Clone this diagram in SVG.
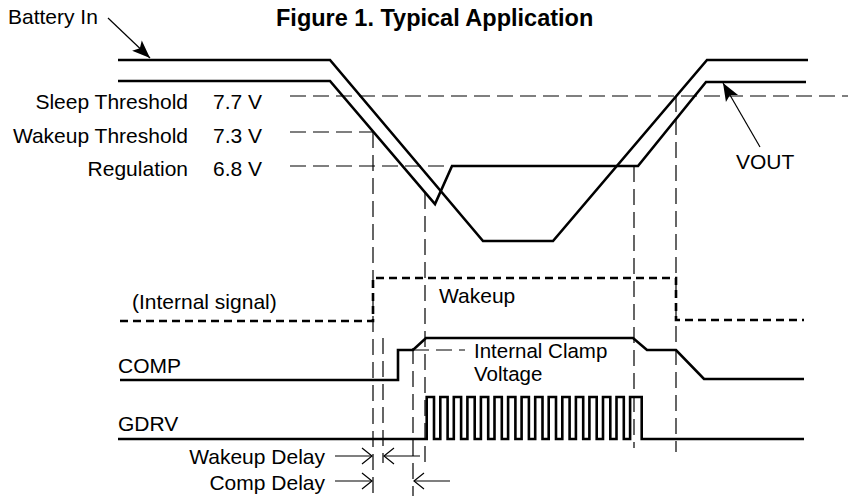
<svg xmlns="http://www.w3.org/2000/svg" width="848" height="498" viewBox="0 0 848 498">
<defs>
<style>
.t{font-family:"Liberation Sans",Arial,sans-serif;font-size:21px;fill:#000}
.title{font-family:"Liberation Sans",Arial,sans-serif;font-size:23.5px;font-weight:bold;fill:#000}
.sig{fill:none;stroke:#000;stroke-width:2.6;stroke-linejoin:miter}
.isig{fill:none;stroke:#000;stroke-width:2.6;stroke-dasharray:8 5}
.guide{fill:none;stroke:#000;stroke-width:1.2;stroke-dasharray:16 7}
.ptr{fill:none;stroke:#000;stroke-width:1.2}
</style>
<marker id="fill-arrow" markerUnits="userSpaceOnUse" markerWidth="20" markerHeight="16" refX="18" refY="7" orient="auto" overflow="visible">
<path d="M0,0 L18,7 L0,14 L4,7 z" fill="#000"/>
</marker>
<marker id="open-arrow" markerUnits="userSpaceOnUse" markerWidth="12" markerHeight="18" refX="10" refY="8" orient="auto" overflow="visible">
<path d="M0,0 L10,8 L0,16" fill="none" stroke="#000" stroke-width="1.2"/>
</marker>
</defs>
<rect width="848" height="498" fill="#fff"/>

<text id="title" class="title" x="276" y="26">Figure 1. Typical Application</text>

<g id="labels">
<text class="t" x="8" y="24">Battery In</text>
<text class="t" x="188" y="109" text-anchor="end">Sleep Threshold</text>
<text class="t" x="213" y="109">7.7 V</text>
<text class="t" x="188" y="143" text-anchor="end">Wakeup Threshold</text>
<text class="t" x="213" y="143">7.3 V</text>
<text class="t" x="188" y="176" text-anchor="end">Regulation</text>
<text class="t" x="213" y="176">6.8 V</text>
<text class="t" x="736" y="169">VOUT</text>
<text class="t" x="132" y="309">(Internal signal)</text>
<text class="t" x="439" y="303">Wakeup</text>
<text class="t" x="118" y="373">COMP</text>
<text class="t" x="474" y="358" style="font-size:20.5px">Internal Clamp</text>
<text class="t" x="474" y="381" style="font-size:20.5px">Voltage</text>
<text class="t" x="118" y="431">GDRV</text>
<text class="t" x="325" y="464" text-anchor="end">Wakeup Delay</text>
<text class="t" x="325" y="490" text-anchor="end">Comp Delay</text>
</g>

<g id="guides">
<line class="guide" x1="290" y1="96" x2="848" y2="96"/>
<line class="guide" x1="290" y1="132" x2="373" y2="132"/>
<line class="guide" x1="290" y1="166" x2="452" y2="166"/>
<line class="guide" x1="373" y1="132" x2="373" y2="496"/>
<line class="guide" x1="383" y1="338" x2="383" y2="463"/>
<line class="guide" x1="413" y1="348" x2="413" y2="496"/>
<line class="guide" x1="425" y1="193" x2="425" y2="462"/>
<line class="guide" x1="634" y1="166" x2="634" y2="448"/>
<line class="guide" x1="676" y1="96" x2="676" y2="452"/>
<line class="guide" x1="413" y1="350" x2="465" y2="350" stroke-dasharray="13 6"/>
</g>

<g id="battery-in">
<path class="sig" d="M118,60 H330 L483,241 H553 L707,60 H808"/>
</g>
<g id="vout">
<path class="sig" d="M118,81 H330 L435,204 L452,166 H638 L706,82 H806"/>
</g>
<g id="internal-signal">
<path class="isig" d="M120,321 H373 V278 H676 V320 H804"/>
</g>
<g id="comp">
<path class="sig" d="M120,380 H398 V350 H413 L426,338 H633 L647,350 H676 L704,379 H804"/>
</g>
<g id="gdrv">
<path class="sig" d="M118,439 H426.7 V397 H434 V439 H440.3 V397 H447.6 V439 H453.8 V397 H461.1 V439 H467.4 V397 H474.7 V439 H480.9 V397 H488.2 V439 H494.5 V397 H501.8 V439 H508.1 V397 H515.4 V439 H521.6 V397 H528.9 V439 H535.2 V397 H542.5 V439 H548.7 V397 H556 V439 H562.3 V397 H569.6 V439 H575.9 V397 H583.2 V439 H589.4 V397 H596.7 V439 H603 V397 H610.3 V439 H616.5 V397 H623.8 V439 H630.1 V397 H641.7 V439 H804"/>
</g>

<g id="connectors">
<line class="ptr" x1="108" y1="18" x2="150" y2="58" marker-end="url(#fill-arrow)"/>
<line class="ptr" x1="760" y1="147" x2="723" y2="83" marker-end="url(#fill-arrow)"/>
<line class="ptr" x1="335" y1="456" x2="372" y2="456" marker-end="url(#open-arrow)"/>
<line class="ptr" x1="420" y1="456" x2="384" y2="456" marker-end="url(#open-arrow)"/>
<line class="ptr" x1="335" y1="481" x2="372" y2="481" marker-end="url(#open-arrow)"/>
<line class="ptr" x1="450" y1="481" x2="414" y2="481" marker-end="url(#open-arrow)"/>
</g>
</svg>
